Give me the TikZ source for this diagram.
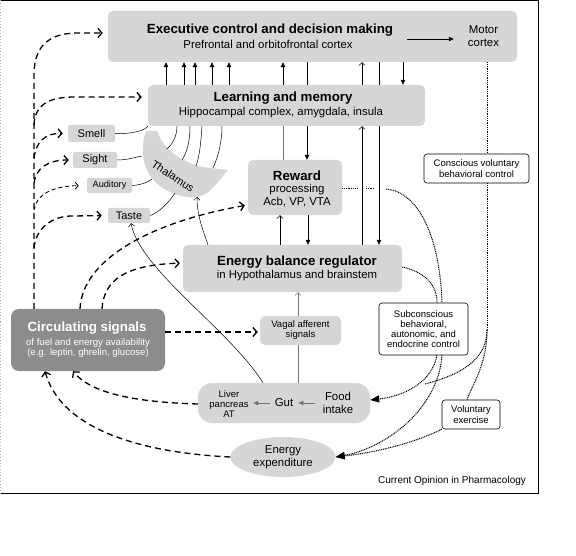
\documentclass[tikz,border=0pt]{standalone}
\usepackage{fontspec}
\setmainfont{Liberation Sans}
\usetikzlibrary{arrows.meta,shapes.geometric}
\definecolor{boxgray}{gray}{0.84}
\definecolor{circgray}{gray}{0.55}
\definecolor{lnkgray}{gray}{0.45}
\newcommand\fTitle{\fontsize{13.3}{15}\selectfont\bfseries}
\newcommand\fSub{\fontsize{11.4}{13}\selectfont}
\newcommand\fSmall{\fontsize{9.5}{10}\selectfont}
\tikzset{
 box/.style={draw=none, fill=boxgray, rounded corners=5pt, inner sep=0pt, align=center},
 txt/.style={inner sep=0pt, align=center},
 ctrlbox/.style={draw=black, line width=0.6pt, fill=white, rounded corners=3pt, inner sep=0pt, align=center},
 fa/.style={line width=0.6pt, -{Triangle[length=5pt,width=4.5pt]}},
 oa/.style={line width=0.5pt, -{Straight Barb[length=3pt,width=6pt]}},
 pl/.style={line width=0.6pt},
 thinl/.style={line width=0.5pt},
 dsh/.style={line width=1.3pt, dash pattern=on 6pt off 4pt, -{Straight Barb[length=4pt,width=9pt]}},
 dshs/.style={line width=0.9pt, dash pattern=on 4pt off 3pt, -{Straight Barb[length=3pt,width=7pt]}},
 dtt/.style={line width=1pt, dash pattern=on 1pt off 0.8pt},
 dta/.style={dtt, -{Triangle[length=9pt,width=7pt]}},
}
\begin{document}
\begin{tikzpicture}[x=1pt,y=-1pt]
\useasboundingbox (0,0) rectangle (576,556);
% frame
\draw[line width=1pt] (0,0.5) -- (538,0.5) -- (538,493) -- (0,493);
\draw[gray!60, dash pattern=on 1pt off 2pt] (0.5,0.5) -- (0.5,493);

% boxes
\node[box, minimum width=409, minimum height=51] (exec) at (312.5,36.5) {};
\node[txt, font=\fTitle] (exect) at (270,30) {Executive control and decision making};
\node[txt, font=\fSub] (execs) at (268,44) {Prefrontal and orbitofrontal cortex};
\node[txt, font=\fSub, inner xsep=14pt] (motor) at (483.5,36.5) {Motor\\cortex};

\node[box, minimum width=277, minimum height=41] (learn) at (286.5,105.5) {};
\node[txt, font=\fTitle] (learnt) at (283,98) {Learning and memory};
\node[txt, font=\fSub] (learns) at (281,113) {Hippocampal complex, amygdala, insula};

\node[box, minimum width=94, minimum height=55] (reward) at (295,187.5) {};
\node[txt, font=\fTitle] (rewardt) at (297,176) {Reward};
\node[txt, font=\fSub] (rewards) at (297,196) {processing\\Acb, VP, VTA};

\node[box, minimum width=219, minimum height=47] (energy) at (292.5,268.5) {};
\node[txt, font=\fTitle] (energyt) at (297,262) {Energy balance regulator};
\node[txt, font=\fSub] (energys) at (297,276) {in Hypothalamus and brainstem};

\node[box, minimum width=81, minimum height=29, font=\fSmall] (vagal) at (300.5,330.5) {Vagal afferent\\signals};

\node[box, rounded corners=14pt, minimum width=172, minimum height=40] (foodbox) at (284,403) {};
\node[txt, font=\fSmall] (liver) at (229,404) {Liver\\pancreas\\AT};
\node[txt, font=\fSub] (gut) at (284,403) {Gut};
\node[txt, font=\fSub] (food) at (338,403) {Food\\intake};

\node[ellipse, fill=boxgray, minimum width=105, minimum height=40, inner sep=0pt, align=center, font=\fSub] (expend) at (283,457) {Energy\\expenditure};

\node[box, fill=circgray, rounded corners=8pt, minimum width=154, minimum height=62] (circ) at (88,340) {};
\node[txt, font=\fTitle, text=white] (circt) at (87,328) {Circulating signals};
\node[txt, font=\fontsize{9.6}{10.3}\selectfont, text=white] (circs) at (88,348) {of fuel and energy availability\\(e.g. leptin, ghrelin, glucose)};

\node[box, rounded corners=2pt, minimum width=47, minimum height=17, font=\fontsize{11}{12}\selectfont] (smell) at (91.5,133.5) {Smell};
\node[box, rounded corners=2pt, minimum width=44, minimum height=16, font=\fontsize{11}{12}\selectfont] (sight) at (95,160) {Sight};
\node[box, rounded corners=2pt, minimum width=45, minimum height=15, font=\fontsize{9.2}{10}\selectfont] (auditory) at (109.5,185.5) {Auditory};
\node[box, rounded corners=2pt, minimum width=42, minimum height=15, font=\fontsize{11}{12}\selectfont] (taste) at (129,215.5) {Taste};

% thalamus
\fill[boxgray] (146,131) .. controls (138,155) and (145,180) .. (168,191)
  .. controls (182,198) and (197,200) .. (207,193) .. controls (215,187) and (221,178) .. (228,170)
  .. controls (214,168) and (200,168) .. (190,163) .. controls (173,156) and (162,145) .. (157,131) -- cycle;
\node[txt, font=\fontsize{11}{12}\selectfont, rotate=-33] (thal) at (173,176) {Thalamus};

\node[ctrlbox, minimum width=105, minimum height=29, font=\fontsize{9.5}{11}\selectfont] (conscious) at (476.5,168.5) {Conscious voluntary\\behavioral control};
\node[ctrlbox, minimum width=89, minimum height=52, font=\fontsize{9.5}{9.8}\selectfont] (subcon) at (423.5,329) {Subconscious\\behavioral,\\autonomic, and\\endocrine control};
\node[ctrlbox, minimum width=58, minimum height=29, font=\fontsize{9.5}{11}\selectfont] (volex) at (471,414.5) {Voluntary\\exercise};

\node[txt, font=\fontsize{10}{12}\selectfont] (credit) at (452,481) {Current Opinion in Pharmacology};

% vertical links
\foreach \xx in {166,184,195,212,229,283} \draw[fa] (learn.north -| \xx,0) -- (exec.south -| \xx,0);
\draw[pl, lnkgray] (reward.north -| 283,0) -- (learn.south -| 283,0);
\draw[pl] (exec.south -| 307,0) -- (learn.north -| 307,0);
\draw[fa] (learn.south -| 307,0) -- (reward.north -| 307,0);
\draw[oa] (learn.north -| 362,0) -- (exec.south -| 362,0);
\draw[oa] (energy.north -| 362,0) -- (learn.south -| 362,0);
\draw[pl] (exec.south -| 379,0) -- (learn.north -| 379,0);
\draw[fa] (learn.south -| 379,0) -- (energy.north -| 379,0);
\draw[fa] (exec.south -| 403,0) -- (learn.north -| 403,0);
\draw[oa] (energy.north -| 280,0) -- (reward.south -| 280,0);
\draw[fa] (reward.south -| 308,0) -- (energy.north -| 308,0);
\coordinate (ma) at (407,39);
\draw[fa] (ma) -- (motor.west |- ma);

% dotted control paths
\draw[dtt] (exec.south -| 487,0) -- (conscious.north -| 487,0);
\coordinate (cj) at (487,330);
\coordinate (fj) at (425,384);
\draw[dtt] (conscious.south -| 487,0) -- (cj);
\draw[dtt] (cj) .. controls (487,360) and (460,375) .. (fj);
\draw[dtt] (cj) .. controls (487,365) and (472,385) .. (volex.north -| 467,0);
\draw[dta] (subcon.south -| 437,0) .. controls (432,382) and (405,396) .. (foodbox.east |- 0,400);
\draw[dta] (subcon.south -| 442,0) .. controls (438,410) and (385,448) .. (expend.east);
\draw[dta] (volex.south west) .. controls (410,445) and (370,453) .. (expend.east);
\coordinate (g1) at (358,189);
\coordinate (g2) at (366,189);
\coordinate (g3) at (374,189);
\coordinate (g4) at (386,189);
\draw[dtt] (reward.east |- g1) -- (g1);
\draw[dtt] (g2) -- (g3);
\draw[dtt] (g4) .. controls (420,192) and (440,240) .. (subcon.north -| 442,0);
\draw[dtt] (energy.east |- 0,267) .. controls (425,272) and (437,285) .. (subcon.north -| 437,0);

% dashed signal paths
\coordinate (tr) at (34,75);
\draw[dsh, shorten >=5pt] (circ.north -| 34,0) -- (tr) .. controls (34,45) and (50,33) .. (78,33) -- (exec.west |- 0,33);
\coordinate (b1) at (34,125);
\coordinate (b2) at (34,158);
\coordinate (b3) at (34,183);
\coordinate (b4) at (34,210);
\coordinate (b5) at (34,248);
\draw[dsh, shorten >=6pt] (b1) .. controls (35,105) and (48,97) .. (75,97) -- (learn.west |- 0,97);
\draw[dsh, shorten >=5pt] (b2) .. controls (36,142) and (45,133) .. (smell.west);
\draw[dsh, shorten >=4pt] (b3) .. controls (36,168) and (48,160) .. (sight.west);
\draw[dshs, shorten >=8pt] (b4) .. controls (36,195) and (52,186) .. (auditory.west);
\draw[dsh, shorten >=6pt] (b5) .. controls (36,228) and (52,216) .. (72,216) -- (taste.west);
\draw[dsh, shorten >=3pt] (circ.north -| 80,0) .. controls (82,260) and (150,222) .. (reward.west |- 0,205);
\draw[dsh, shorten >=3pt] (circ.north -| 102,0) .. controls (104,280) and (125,265) .. (energy.west |- 0,263);
\draw[dsh, shorten >=2pt] (circ.east |- 0,332) -- (vagal.west |- 0,332);
\draw[dsh] (foodbox.west |- 0,404) .. controls (130,402) and (90,392) .. (circ.south -| 73,0);
\draw[dsh] (expend.west) .. controls (130,452) and (60,425) .. (circ.south -| 45,0);

% thin solid sensory links
\coordinate (th1) at (142,156);
\coordinate (th2) at (152,179);
\coordinate (th3) at (175,193);
\coordinate (th4) at (197,197);
\draw[thinl] (smell.east) .. controls (135,134) and (145,130) .. (learn.south west);
\draw[thinl] (sight.east) .. controls (128,160) and (136,157) .. (th1);
\draw[thinl] (auditory.east) .. controls (140,185) and (147,183) .. (th2);
\draw[thinl] (taste.east) .. controls (160,212) and (169,202) .. (th3);
\coordinate (tu1) at (167,149);
\coordinate (tu2) at (182,160);
\coordinate (tu3) at (196,166);
\coordinate (tu4) at (213,168);
\draw[thinl] (tu1) .. controls (174,143) and (177,134) .. (learn.south -| 177,0);
\draw[thinl] (tu2) .. controls (188,151) and (190,138) .. (learn.south -| 190,0);
\draw[thinl] (tu3) .. controls (200,155) and (201,140) .. (learn.south -| 202,0);
\draw[thinl] (tu4) .. controls (219,155) and (222,140) .. (learn.south -| 222,0);
\draw[oa] (energy.north -| 208,0) .. controls (202,228) and (197,214) .. (th4);
\draw[oa] (foodbox.north -| 263,0) .. controls (230,330) and (140,270) .. (taste.south -| 131,0);

% gut area
\draw[oa, lnkgray] (vagal.north -| 298,0) -- (energy.south -| 298,0);
\draw[pl, lnkgray] (foodbox.north -| 298,0) -- (vagal.south -| 298,0);
\draw[fa, lnkgray, shorten <=8pt, shorten >=5pt] (food.west |- gut) -- (gut.east);
\draw[fa, lnkgray, shorten <=5pt, shorten >=4.5pt] (gut.west) -- (liver.east |- gut);
\end{tikzpicture}
\end{document}
